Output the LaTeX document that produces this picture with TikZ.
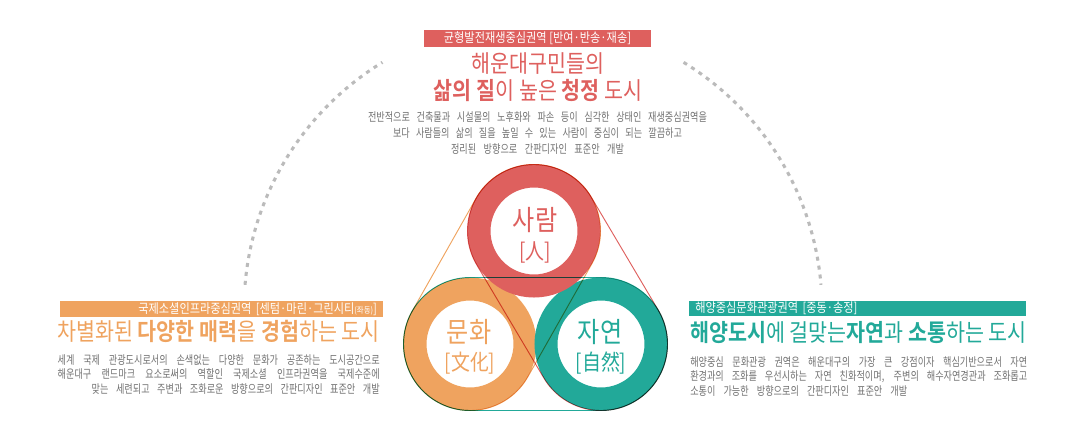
\documentclass[tikz,border=0pt]{standalone}
\usepackage{fontspec}
\newfontfamily\kr[FakeStretch=0.86,BoldFont={Noto Sans CJK KR Bold}]{Noto Sans CJK KR}
\newfontfamily\krb[FakeStretch=0.77]{Noto Sans CJK KR}
\usetikzlibrary{calc}

\definecolor{hwred}{HTML}{DE605E}
\definecolor{hworange}{HTML}{EFA35F}
\definecolor{hwteal}{HTML}{22A999}
\definecolor{hwgray}{HTML}{727272}
\definecolor{hwdot}{HTML}{BBBBBB}
\newcommand\fsz[2]{\fontsize{#1}{#2}\selectfont}
\newcommand\jline[2]{\makebox[#1][s]{#2}}

\tikzset{
  band/.style={inner ysep=0pt, inner xsep=4.5pt, minimum height=11.6pt, text=white, font=\kr\fsz{9.75pt}{11pt}},
  ttl/.style={inner sep=0pt, font=\kr\fsz{18pt}{20pt}},
  bodytxt/.style={inner sep=0pt, text=hwgray, font=\krb\fsz{8.9pt}{10.8pt}},
  ring/.style={circle, line width=17.25pt, minimum size=82.5pt, inner sep=0pt, fill=white},
  ringtxt/.style={inner sep=0pt, font=\kr\fsz{21pt}{22pt}},
  hanjatxt/.style={inner sep=0pt, font=\kr\fsz{16.5pt}{18pt}},
  belt/.style={line width=0.7pt, blend mode=multiply},
  dotarc/.style={hwdot, line width=2.3pt, dash pattern=on 3pt off 3.75pt},
}

\begin{document}
\begin{tikzpicture}[x=0.75pt,y=0.75pt]
\useasboundingbox (0,0) rectangle (1080,-433);

\coordinate (arcc) at (533,-309);
\draw[dotarc] (arcc) ++(175.2:289) arc[start angle=175.2, end angle=121.4, radius=289];
\draw[dotarc] (arcc) ++(58.6:289) arc[start angle=58.6, end angle=4.8, radius=289];

\node[band, fill=hwred, minimum width=170.25pt, minimum height=12.75pt] (topband) at (537.5,-38.5) {균형발전재생중심권역 [반여·반송·재송]};
\node[ttl, text=hwred] (toptitle) at (538,-64) {해운대구민들의};
\node[ttl, text=hwred] (topsub) at (538,-90) {\textbf{삶의 질}이 높은 \textbf{청정} 도시};
\node[bodytxt, align=center, font=\krb\fsz{8.9pt}{12pt}] (topbody) at (537.5,-133) {\jline{254.25pt}{전반적으로 건축물과 시설물의 노후화와 파손 등이 심각한 상태인 재생중심권역을}\\\jline{216.75pt}{보다 사람들의 삶의 질을 높일 수 있는 사람이 중심이 되는 깔끔하고}\\\jline{129.75pt}{정리된 방향으로 간판디자인 표준안 개발}};

\node[band, fill=hworange, text width=233.25pt, align=right] (leftband) at (221.5,-309) {국제소셜인프라중심권역 [센텀·마린·그린시티{\fsz{6.5pt}{7pt}(좌동)}]};
\node[ttl, text=hworange, anchor=east] (lefttitle) at (380,-331) {차별화된 \textbf{다양한 매력}을 \textbf{경험}하는 도시};
\node[bodytxt, align=right, anchor=east] (leftbody) at (380,-374.5) {\jline{241.5pt}{세계 국제 관광도시로서의 손색없는 다양한 문화가 공존하는 도시공간으로}\\\jline{241.5pt}{해운대구 랜드마크 요소로써의 역할인 국제소셜 인프라권역을 국제수준에}\\\jline{216pt}{맞는 세련되고 주변과 조화로운 방향으로의 간판디자인 표준안 개발}};

\node[band, fill=hwteal, text width=243.25pt, align=left] (rightband) at (857.5,-308.5) {해양중심문화관광권역 [중동·송정]};
\node[ttl, text=hwteal, anchor=west] (righttitle) at (690,-333) {\textbf{해양도시}에 걸맞는\textbf{자연}과 \textbf{소통}하는 도시};
\node[bodytxt, align=left, anchor=west] (rightbody) at (690,-376.5) {\jline{252.75pt}{해양중심 문화관광 권역은 해운대구의 가장 큰 강점이자 핵심기반으로서 자연}\\\jline{252.75pt}{환경과의 조화를 우선시하는 자연 친화적이며, 주변의 해수자연경관과 조화롭고}\\\jline{162.75pt}{소통이 가능한 방향으로의 간판디자인 표준안 개발}};

\node[ring, draw=hworange] (munhwa) at (470,-344) {};
\node[ring, draw=hwteal] (jayeon) at (601,-344) {};
\node[ring, draw=hwred] (saram) at (534,-231) {};

\foreach \a/\b/\c in {saram/munhwa/hworange, saram/jayeon/hwred, munhwa/jayeon/hwteal}
  \draw[belt, \c] let \p1=($(\b.center)-(\a.center)$), \n1={atan2(\y1,\x1)} in
    ($(\a.center)+(\n1+90:66.5)$) -- ($(\b.center)+(\n1+90:66.5)$)
    arc[start angle=\n1+90, delta angle=-180, radius=66.5]
    -- ($(\a.center)+(\n1-90:66.5)$)
    arc[start angle=\n1-90, delta angle=-180, radius=66.5] -- cycle;

\node[ringtxt, text=hwred] (saramko) at (535,-220) {사람};
\node[hanjatxt, text=hwred] (saramhj) at (535,-252) {[人]};
\node[ringtxt, text=hworange] (munhwako) at (469,-332) {문화};
\node[hanjatxt, text=hworange] (munhwahj) at (470,-363) {[文化]};
\node[ringtxt, text=hwteal] (jayeonko) at (600,-332) {자연};
\node[hanjatxt, text=hwteal] (jayeonhj) at (601,-363) {[自然]};

\end{tikzpicture}
\end{document}
